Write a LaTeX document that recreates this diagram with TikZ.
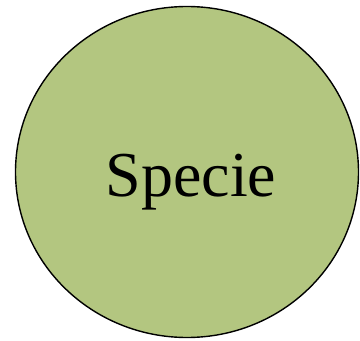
\documentclass[tikz,border=0pt]{standalone}
\usepackage{fontspec}
\setmainfont{Liberation Serif}
\usetikzlibrary{shapes.geometric}
\definecolor{olivefill}{RGB}{179,198,128}

\begin{document}
\begin{tikzpicture}[
  x=1pt, y=1pt,
  species/.style={ellipse,draw,fill=olivefill,line width=1.4pt,inner sep=0pt,minimum width=343pt,minimum height=331pt},
  spname/.style={anchor=base,inner sep=0pt,font=\fontsize{64}{70}\selectfont}
]
  \useasboundingbox (0,0) rectangle (360,341);
  \node[species] (sp) at (187,169) {};
  \node[spname] (name) at ([xshift=4pt,yshift=-25pt]sp.center) {Specie};
\end{tikzpicture}
\end{document}
